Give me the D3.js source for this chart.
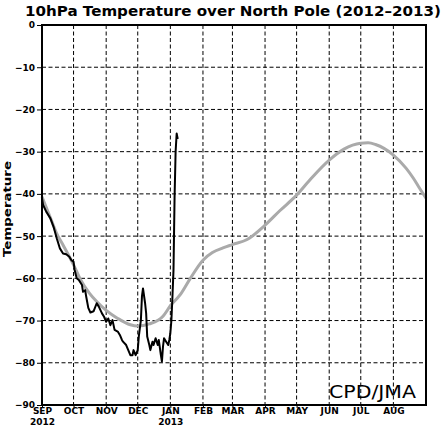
<!DOCTYPE html>
<html>
<head>
<meta charset="utf-8">
<script src="https://cdn.jsdelivr.net/npm/d3@7"></script>
<style>
  body { margin: 0; background: #fff; }
  svg text { font-family: "DejaVu Sans", sans-serif; }
</style>
</head>
<body>
<div id="chart"></div>
<script>
// climatology (gray)
const climDates = ["2012-09-01", "2012-09-10", "2012-09-15", "2012-09-21", "2012-10-01", "2012-10-07",
    "2012-10-16", "2012-10-23", "2012-11-01", "2012-11-12", "2012-11-24", "2012-12-01", "2012-12-12",
    "2012-12-25", "2013-01-01", "2013-01-10", "2013-01-20", "2013-02-01", "2013-02-10", "2013-02-20",
    "2013-03-01", "2013-03-15", "2013-04-01", "2013-04-15", "2013-05-01", "2013-05-15", "2013-06-01",
    "2013-06-15", "2013-07-01", "2013-07-08", "2013-07-15", "2013-08-01", "2013-08-13", "2013-08-20",
    "2013-08-25", "2013-09-01"];
const climTemps = [-40.7, -46.3, -49.4, -52.1, -56.8, -60.0,
    -63.5, -65.5, -67.6, -69.5, -71.0, -71.3, -70.8,
    -69.0, -66.5, -64.0, -60.0, -55.7, -53.9, -52.8,
    -52.0, -50.8, -47.4, -44.0, -40.3, -36.3, -32.0,
    -29.4, -28.0, -27.9, -28.3, -30.8, -33.9, -36.3,
    -38.3, -41.0];

// observed 2012-2013 (black)
const obsDates = ["2012-09-01", "2012-09-02", "2012-09-05", "2012-09-09", "2012-09-12", "2012-09-15",
    "2012-09-18", "2012-09-21", "2012-09-24", "2012-09-27", "2012-09-29", "2012-10-01", "2012-10-02",
    "2012-10-04", "2012-10-06", "2012-10-09", "2012-10-10", "2012-10-12", "2012-10-13", "2012-10-15",
    "2012-10-17", "2012-10-20", "2012-10-23", "2012-10-25", "2012-10-28", "2012-10-30", "2012-11-01",
    "2012-11-03", "2012-11-05", "2012-11-07", "2012-11-09", "2012-11-12", "2012-11-14", "2012-11-16",
    "2012-11-17", "2012-11-20", "2012-11-22", "2012-11-24", "2012-11-26", "2012-11-27", "2012-11-29",
    "2012-12-01", "2012-12-02", "2012-12-04", "2012-12-05", "2012-12-06", "2012-12-08", "2012-12-09",
    "2012-12-10", "2012-12-12", "2012-12-13", "2012-12-15", "2012-12-16", "2012-12-18", "2012-12-20",
    "2012-12-21", "2012-12-23", "2012-12-24", "2012-12-25", "2012-12-26", "2012-12-28", "2012-12-30",
    "2012-12-31", "2013-01-01", "2013-01-02", "2013-01-03", "2013-01-04", "2013-01-05", "2013-01-06",
    "2013-01-07", "2013-01-08"];
const obsTemps = [-41.0, -42.6, -44.2, -45.8, -47.8, -50.5,
    -52.9, -54.1, -54.3, -54.9, -55.7, -56.1, -58.0,
    -60.0, -60.4, -61.6, -63.2, -62.8, -64.3, -67.0,
    -68.1, -67.8, -65.9, -66.7, -68.3, -69.1, -70.3,
    -69.5, -71.1, -69.9, -72.2, -72.6, -73.4, -74.6,
    -75.0, -75.8, -77.0, -78.2, -78.2, -77.0, -78.2,
    -77.0, -73.8, -69.9, -64.3, -62.4, -65.9, -68.3,
    -73.8, -75.8, -77.0, -75.0, -75.8, -74.2, -75.8,
    -74.6, -78.2, -79.7, -76.2, -74.2, -75.0, -75.8,
    -74.6, -73.0, -69.9, -64.3, -58.0, -41.0, -30.0,
    -25.7, -27.0];

const yTicks = [0, -10, -20, -30, -40, -50, -60, -70, -80, -90];
const monthLabels = ["SEP|2012", "OCT", "NOV", "DEC", "JAN|2013", "FEB", "MAR", "APR", "MAY", "JUN", "JUL", "AUG"];

const W = 444, H = 429;
const margin = { top: 25, right: 18, bottom: 24, left: 42 };
const width = W - margin.left - margin.right;
const height = H - margin.top - margin.bottom;
const parse = d3.timeParse("%Y-%m-%d");

const svg = d3.select("#chart").append("svg")
    .attr("width", W)
    .attr("height", H);

const g = svg.append("g")
    .attr("transform", `translate(${margin.left},${margin.top})`);

const x = d3.scaleTime()
    .domain([parse("2012-09-01"), parse("2013-09-01")])
    .range([0, width]);

const y = d3.scaleLinear()
    .domain([-90, 0])
    .range([height, 0]);

const months = d3.timeMonth.range(parse("2012-09-01"), parse("2013-09-01"));

// dashed grid
g.append("g")
    .selectAll("line")
    .data(months.slice(1))
    .join("line")
    .attr("x1", d => x(d)).attr("x2", d => x(d))
    .attr("y1", 0).attr("y2", height)
    .attr("stroke", "#000")
    .attr("stroke-width", 1)
    .attr("stroke-dasharray", "4,2.5");

g.append("g")
    .selectAll("line")
    .data(yTicks.slice(1, -1))
    .join("line")
    .attr("x1", 0).attr("x2", width)
    .attr("y1", d => y(d)).attr("y2", d => y(d))
    .attr("stroke", "#000")
    .attr("stroke-width", 1)
    .attr("stroke-dasharray", "4,2.5");

// axes
const yAxis = g.append("g")
    .call(d3.axisLeft(y).tickValues(yTicks).tickSize(5).tickPadding(2));
yAxis.select(".domain").remove();
yAxis.selectAll("text")
    .style("font-size", "9px")
    .style("font-weight", "bold");

const xAxis = g.append("g")
    .attr("transform", `translate(0,${height})`)
    .call(d3.axisBottom(x).tickValues(months).tickSize(3).tickFormat(""));
xAxis.select(".domain").remove();

xAxis.selectAll(".tick").each(function (d, i) {
    const parts = monthLabels[i].split("|");
    const t = d3.select(this).append("text")
        .attr("fill", "#000")
        .attr("text-anchor", "middle")
        .style("font-size", "9px")
        .style("font-weight", "bold");
    parts.forEach((p, k) => {
        t.append("tspan")
            .attr("x", 0)
            .attr("y", 9 + k * 11)
            .text(p);
    });
});

// lines
const climData = climDates.map((d, i) => ({ date: parse(d), value: climTemps[i] }));
const obsData = obsDates.map((d, i) => ({ date: parse(d), value: obsTemps[i] }));

g.append("path")
    .datum(climData)
    .attr("fill", "none")
    .attr("stroke", "#aaaaaa")
    .attr("stroke-width", 3)
    .attr("d", d3.line().x(d => x(d.date)).y(d => y(d.value)).curve(d3.curveMonotoneX));

g.append("path")
    .datum(obsData)
    .attr("fill", "none")
    .attr("stroke", "#000")
    .attr("stroke-width", 2)
    .attr("stroke-linejoin", "round")
    .attr("d", d3.line().x(d => x(d.date)).y(d => y(d.value)));

// frame
g.append("rect")
    .attr("width", width)
    .attr("height", height)
    .attr("fill", "none")
    .attr("stroke", "#000")
    .attr("stroke-width", 2);

// texts
svg.append("text")
    .attr("x", 25)
    .attr("y", 16)
    .attr("textLength", 416)
    .attr("lengthAdjust", "spacingAndGlyphs")
    .style("font-size", "14px")
    .style("font-weight", "bold")
    .text("10hPa Temperature over North Pole (2012\u20132013)");

svg.append("text")
    .attr("transform", "translate(11,209) rotate(-90)")
    .attr("text-anchor", "middle")
    .attr("textLength", 96)
    .attr("lengthAdjust", "spacingAndGlyphs")
    .style("font-size", "11px")
    .style("font-weight", "bold")
    .text("Temperature");

g.append("text")
    .attr("x", 287)
    .attr("y", height - 7)
    .attr("textLength", 87)
    .attr("lengthAdjust", "spacingAndGlyphs")
    .style("font-size", "18px")
    .text("CPD/JMA");
</script>
</body>
</html>
